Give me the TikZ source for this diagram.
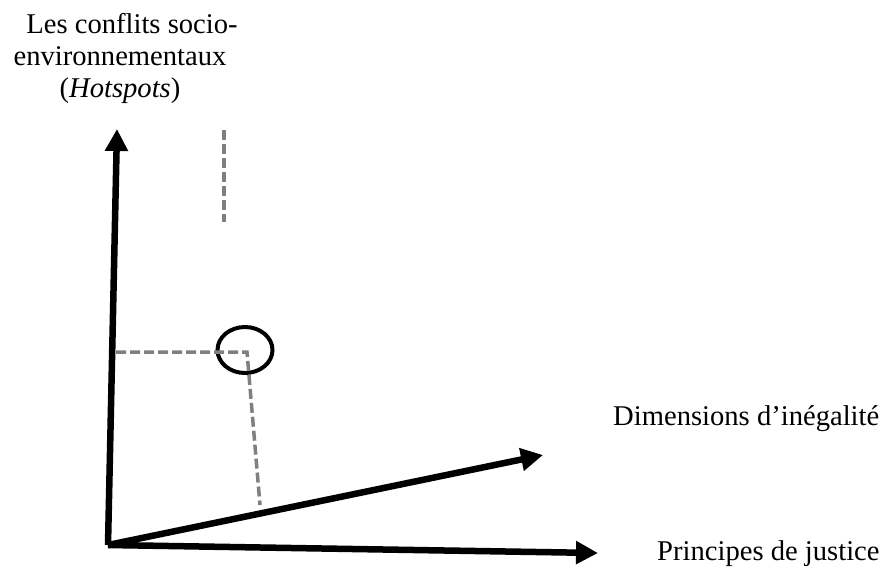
\documentclass[tikz,border=0pt]{standalone}
\usepackage{fontspec}
\setmainfont{Liberation Serif}
\usetikzlibrary{arrows.meta,shapes.geometric}
\definecolor{guidegray}{RGB}{128,128,128}
\begin{document}
\begin{tikzpicture}[x=1pt,y=-1pt,
    axis/.style={line width=6.5pt,-{Triangle[length=22pt,width=22pt]}},
    guide/.style={guidegray,line width=3.5pt,dash pattern=on 10pt off 4pt},
    lbl/.style={inner sep=0pt,font=\fontsize{28.6}{32}\selectfont}]
        \useasboundingbox (0,0) rectangle (882,573);
        % axes
        \coordinate (orig) at (108,545);
        \coordinate (ytip) at (117,129);
        \coordinate (dtip) at (543,455);
        \coordinate (xtip) at (598,553);
        \draw[axis](orig) -- (ytip);
        \draw[axis](orig) -- (dtip);
        \draw[axis](orig) -- (xtip);
        % labels
        \node[lbl,align=center,anchor=base] (ylbl) at (120,97) {\hspace*{24pt}Les conflits socio-\\environnementaux\\(\textit{Hotspots})};
        \node[lbl,anchor=base west] (dlbl) at (613,425) {Dimensions d’inégalité};
        \node[lbl,anchor=base west] (xlbl) at (657,560) {Principes de justice};
        % hotspot and its projections
        \node[draw,ellipse,line width=4pt,inner sep=0pt,minimum width=55pt,minimum height=46pt] (spot) at (245,350) {};
        \coordinate (corner) at (247,352);
        \coordinate (yfoot) at (116,352);
        \coordinate (dfoot) at (260,505);
        \draw[guide](yfoot) -- (corner) -- (dfoot);
        \coordinate (marktop) at (224,130);
        \coordinate (markbot) at (224,222);
        \draw[guide](marktop) -- (markbot);
\end{tikzpicture}
\end{document}
